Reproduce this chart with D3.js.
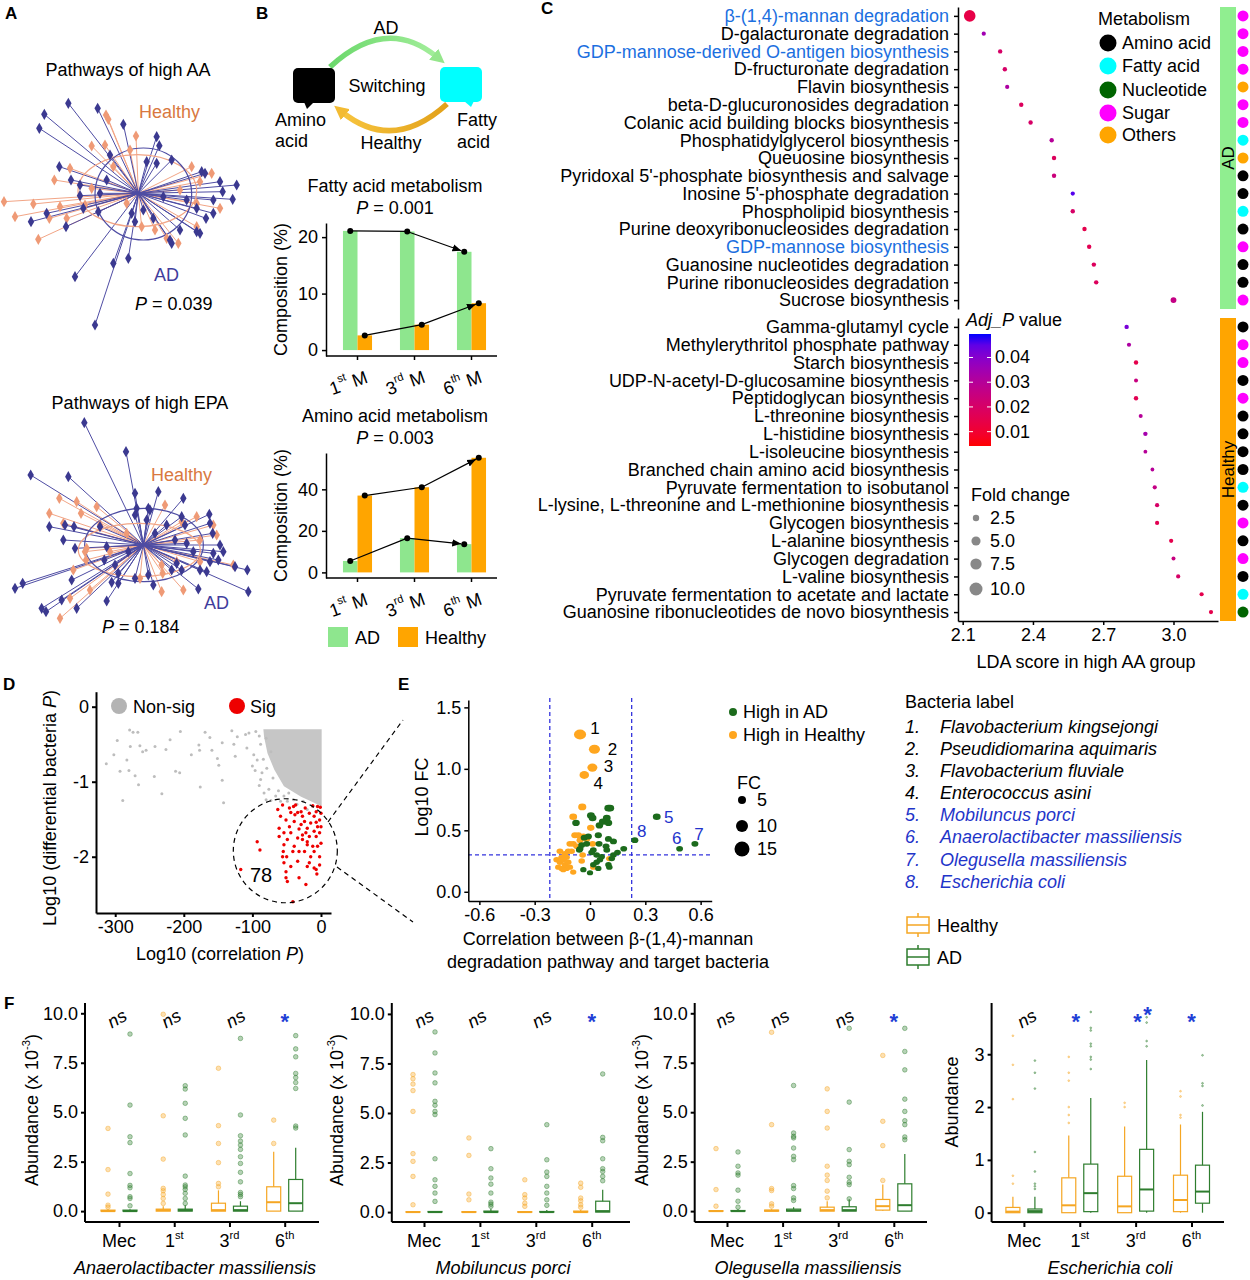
<!DOCTYPE html>
<html>
<head>
<meta charset="utf-8">
<script src="https://cdn.jsdelivr.net/npm/d3@7"></script>
<style>
  body { margin: 0; background: #fff; }
  svg { font-family: "Liberation Sans", Arial, sans-serif; }
</style>
</head>
<body>
<svg id="fig" width="1250" height="1280"></svg>
<script>
// ---------------- data: panel A (ordination coordinates, centroid at 0,0) ----------------
const aaAD = [[-0.210,0.270],[-0.122,0.255],[-0.282,0.237],[-0.297,0.195],[-0.045,0.207],[0.055,0.170],[0.063,0.143],
  [0.100,0.100],[-0.237,0.080],[-0.202,0.040],[-0.175,0.025],[0.190,0.065],[0.200,0.060],[0.245,0.035],[0.295,0.025],
  [0.253,0.005],[0.283,-0.018],[-0.322,-0.085],[-0.175,-0.007],[-0.217,-0.100],[-0.120,-0.055],[0.175,-0.045],
  [0.203,-0.075],[0.225,-0.060],[-0.075,-0.210],[-0.030,-0.195],[-0.190,-0.250],[-0.130,-0.395],[0.095,-0.140],
  [0.100,-0.150],[0.175,-0.115],[0.045,-0.075],[0.055,0.090],[0.025,0.095],[-0.085,0.115],[-0.095,0.040],
  [-0.165,-0.045],[-0.275,-0.060],[0.145,-0.020],[0.225,-0.020],[0.075,-0.010],[0.185,-0.120],[0.125,-0.110],
  [-0.020,-0.060],[0.015,-0.050],[-0.010,-0.085],[-0.115,0.000]];
const aaHealthy = [[-0.097,0.235],[-0.090,0.222],[-0.007,0.172],[-0.140,0.142],[-0.100,0.145],[-0.205,0.075],
  [-0.252,0.040],[-0.403,-0.025],[-0.315,-0.032],[-0.267,-0.075],[-0.235,-0.040],[-0.300,-0.138],[-0.140,0.015],
  [0.160,0.080],[0.220,0.060],[0.185,0.035],[0.245,-0.045],[0.125,0.010],[0.175,-0.100],[0.085,-0.135],
  [0.120,-0.150],[0.050,-0.110],[0.010,-0.100],[-0.035,-0.030],[-0.075,0.080],[-0.025,0.130],[-0.160,-0.035],
  [0.175,-0.030],[-0.370,-0.070],[-0.215,-0.075]];
const aaEllipses = [
  { group: "Healthy", cx: -0.003, cy: 0.008, rx: 0.178, ry: 0.108 },
  { group: "AD", cx: 0.015, cy: -0.002, rx: 0.145, ry: 0.138 }];

const epaAD = [[-0.177,0.367],[-0.052,0.280],[-0.338,0.210],[-0.225,0.205],[-0.025,0.155],[0.045,0.160],[0.120,0.140],
  [-0.020,0.110],[0.015,0.110],[0.010,0.075],[-0.025,0.090],[0.115,0.085],[0.198,0.092],[0.200,0.065],[-0.282,0.055],
  [-0.235,0.060],[-0.208,0.055],[-0.130,0.055],[0.035,0.035],[0.070,0.060],[0.125,0.060],[0.208,0.035],[-0.240,0.015],
  [-0.205,-0.010],[-0.110,-0.005],[-0.045,-0.020],[0.130,0.005],[0.150,-0.020],[0.230,0.000],[0.240,-0.020],
  [-0.117,-0.045],[-0.085,-0.060],[0.100,-0.055],[0.200,-0.050],[0.225,-0.045],[0.275,-0.065],[0.312,-0.075],
  [0.170,-0.075],[0.190,-0.080],[-0.075,-0.085],[-0.025,-0.100],[0.015,-0.090],[0.030,-0.120],[-0.075,-0.115],
  [-0.095,-0.112],[-0.215,-0.105],[-0.385,-0.130],[-0.362,-0.115],[-0.245,-0.165],[-0.110,-0.168],[0.165,-0.132],
  [0.315,-0.140],[-0.305,-0.190],[-0.292,-0.200],[-0.200,-0.190],[0.085,-0.075],[0.115,-0.075],[0.020,0.105],
  [0.095,0.015],[0.210,-0.025]];
const epaHealthy = [[-0.252,0.140],[-0.200,0.130],[-0.140,0.115],[-0.187,0.095],[-0.282,0.095],[-0.240,0.065],
  [-0.130,0.060],[-0.050,0.035],[-0.170,-0.010],[-0.175,-0.020],[-0.100,-0.020],[0.160,0.085],[0.210,0.060],
  [0.220,0.030],[0.170,0.015],[0.065,0.120],[0.115,0.070],[0.100,-0.050],[0.055,-0.060],[0.170,-0.050],
  [0.270,-0.060],[0.058,-0.085],[0.055,-0.140],[0.120,-0.135],[-0.010,-0.100],[-0.160,-0.135],[-0.220,-0.160],
  [-0.250,-0.220],[-0.210,-0.075],[-0.172,-0.045]];
const epaEllipses = [
  { group: "Healthy", cx: -0.012, cy: -0.015, rx: 0.183, ry: 0.080 },
  { group: "AD", cx: 0.002, cy: 0.000, rx: 0.178, ry: 0.110 }];

// ---------------- data: panel B ----------------
const months = ["1st M", "3rd M", "6th M"];
const fattyAD = [21.1, 21.0, 17.4];
const fattyHealthy = [2.6, 4.5, 8.3];
const aminoAD = [5.5, 16.5, 13.6];
const aminoHealthy = [37.0, 41.0, 55.2];

// ---------------- data: panel C ----------------
const pathwaysAD = ["β-(1,4)-mannan degradation", "D-galacturonate degradation",
  "GDP-mannose-derived O-antigen biosynthesis", "D-fructuronate degradation", "Flavin biosynthesis",
  "beta-D-glucuronosides degradation", "Colanic acid building blocks biosynthesis",
  "Phosphatidylglycerol biosynthesis", "Queuosine biosynthesis",
  "Pyridoxal 5'-phosphate biosynthesis and salvage", "Inosine 5'-phosphate degradation",
  "Phospholipid biosynthesis", "Purine deoxyribonucleosides degradation", "GDP-mannose biosynthesis",
  "Guanosine nucleotides degradation", "Purine ribonucleosides degradation", "Sucrose biosynthesis"];
const ldaAD = [2.13, 2.19, 2.26, 2.28, 2.29, 2.35, 2.39, 2.48, 2.49, 2.49, 2.57, 2.57, 2.62, 2.64, 2.66, 2.67, 3.00];
const adjpAD = [0.014, 0.035, 0.020, 0.020, 0.032, 0.018, 0.020, 0.030, 0.018, 0.024, 0.046, 0.020, 0.015, 0.016, 0.018, 0.018, 0.026];
const fcAD = [8.0, 1.1, 1.2, 1.2, 1.1, 1.2, 1.2, 1.2, 1.2, 1.2, 1.1, 1.2, 1.2, 1.2, 1.2, 1.2, 2.1];
const metabAD = ["Sugar", "Sugar", "Sugar", "Sugar", "Others", "Sugar", "Sugar", "Fatty acid", "Others",
  "Amino acid", "Amino acid", "Fatty acid", "Amino acid", "Sugar", "Amino acid", "Amino acid", "Sugar"];

const pathwaysHealthy = ["Gamma-glutamyl cycle", "Methylerythritol phosphate pathway", "Starch biosynthesis",
  "UDP-N-acetyl-D-glucosamine biosynthesis", "Peptidoglycan biosynthesis", "L-threonine biosynthesis",
  "L-histidine biosynthesis", "L-isoleucine biosynthesis", "Branched chain amino acid biosynthesis",
  "Pyruvate fermentation to isobutanol", "L-lysine, L-threonine and L-methionine biosynthesis",
  "Glycogen biosynthesis", "L-alanine biosynthesis", "Glycogen degradation", "L-valine biosynthesis",
  "Pyruvate fermentation to acetate and lactate", "Guanosine ribonucleotides de novo biosynthesis"];
const ldaHealthy = [2.80, 2.81, 2.84, 2.84, 2.84, 2.86, 2.88, 2.88, 2.91, 2.92, 2.93, 2.93, 2.99, 3.00, 3.02, 3.12, 3.16];
const adjpHealthy = [0.042, 0.032, 0.015, 0.025, 0.016, 0.030, 0.034, 0.030, 0.030, 0.026, 0.020, 0.016, 0.015, 0.025, 0.020, 0.015, 0.015];
const fcHealthy = [1.2, 1.1, 1.2, 1.0, 1.2, 1.0, 1.2, 0.9, 0.9, 1.1, 1.1, 1.1, 1.1, 1.0, 1.1, 1.1, 1.1];
const metabHealthy = ["Amino acid", "Sugar", "Sugar", "Amino acid", "Sugar", "Amino acid", "Amino acid",
  "Amino acid", "Amino acid", "Fatty acid", "Amino acid", "Sugar", "Amino acid", "Sugar", "Amino acid",
  "Fatty acid", "Nucleotide"];
const highlighted = ["β-(1,4)-mannan degradation", "GDP-mannose-derived O-antigen biosynthesis", "GDP-mannose biosynthesis"];
const metabClasses = ["Amino acid", "Fatty acid", "Nucleotide", "Sugar", "Others"];
const metabColors = ["#000000", "#00ffff", "#006400", "#ff00ff", "#ffa500"];
const adjpTicks = [0.01, 0.02, 0.03, 0.04];
const fcTicks = [2.5, 5.0, 7.5, 10.0];

// ---------------- data: panel D (log10 correlation P, log10 differential P) ----------------
const dNonSig = [[-313,-0.76],[-297,-0.45],[-302,-0.64],[-279,-0.31],[-274,-0.34],[-267,-0.34],[-278,-0.53],
  [-283,-0.71],[-280,-0.85],[-293,-0.86],[-271,-0.92],[-266,-1.04],[-289,-1.25],[-264,-0.52],[-260,-0.60],
  [-255,-0.58],[-242,-0.53],[-243,-0.93],[-232,-1.16],[-226,-0.57],[-220,-0.44],[-212,-0.86],[-206,-0.88],
  [-205,-0.33],[-189,-0.64],[-178,-0.51],[-176,-1.07],[-169,-0.34],[-177,-0.58],[-162,-0.41],[-159,-0.58],
  [-151,-0.69],[-149,-0.78],[-144,-0.48],[-144,-0.98],[-130,-0.32],[-127,-0.50],[-125,-0.66],[-122,-0.40],
  [-110,-0.37],[-108,-0.55],[-105,-0.35],[-98,-0.64],[-100,-0.79],[-96,-0.85],[-93,-0.71],[-90,-1.05],
  [-142,-1.28],[-88,-0.50],[-88,-0.97],[-83,-1.15],[-80,-1.24],[-76,-1.10],[-73,-1.25],[-79,-0.82],[-73,-0.60],
  [-66,-1.19],[-59,-1.26],[-54,-1.19],[-49,-1.26],[-47,-1.15],[-35,-1.30],[-26,-1.26],[-20,-1.37],[-80,-0.42],
  [-90,-0.39],[-95,-0.33],[-86,-0.88],[-84,-0.70],[-70,-0.95],[-62,-1.12],[-40,-1.24],[-12,-1.33]];
// outline of the saturated block of non-significant points
const dNonSigCloud = [[-84,-0.30],[1,-0.30],[1,-1.33],[-10,-1.28],[-29,-1.20],[-54,-1.06],[-68,-0.84],[-78,-0.62],[-83,-0.40]];
const dSig = [[-56,-1.31],[-40,-1.33],[-29,-1.40],[-12,-1.32],[-5,-1.33],[-1,-1.34],[-17,-1.42],[-10,-1.46],
  [-2,-1.51],[-44,-1.41],[-38,-1.44],[-34,-1.41],[-27,-1.46],[-59,-1.46],[-51,-1.51],[-39,-1.53],[-24,-1.53],
  [-15,-1.55],[-7,-1.54],[-46,-1.60],[-32,-1.63],[-20,-1.62],[-10,-1.66],[-2,-1.68],[-61,-1.62],[-54,-1.68],
  [-44,-1.68],[-27,-1.71],[-17,-1.73],[-7,-1.73],[-93,-1.80],[-89,-1.91],[-54,-1.84],[-39,-1.86],[-27,-1.77],
  [-20,-1.84],[-12,-1.86],[-5,-1.86],[-55,-1.93],[-41,-1.93],[-24,-1.93],[-15,-2.00],[-2,-2.00],[-50,-2.00],
  [-34,-2.06],[-54,-2.08],[-44,-2.13],[-20,-2.13],[-10,-2.15],[-7,-2.17],[-6,-2.23],[-51,-2.20],[-117,-2.17],
  [-49,-2.33],[-32,-2.28],[-51,-2.28],[-22,-2.37],[-41,-2.60],[-20,-1.80],[0,-1.60],[-5,-1.60],[-29,-1.57],
  [-22,-1.68],[-49,-1.77],[-10,-1.93],[-34,-1.75],[-46,-1.35],[-63,-1.37],[0,-1.42],[-7,-1.40],[-23,-1.35],
  [-37,-1.31],[-17,-2.08],[0,-1.82],[-32,-1.93],[-61,-1.73],[-56,-2.00],[-2,-2.11]];
const dSigCount = 78;
const dSigCircle = { x: -52, y: -1.92, rPx: 52 };

// ---------------- data: panel E (correlation, log10 FC) ----------------
const eHealthy = [[-0.054,1.28],[0.024,1.16],[0.013,1.01],[-0.031,0.95],[-0.042,0.69],[-0.091,0.61],[0.004,0.52],
  [-0.082,0.46],[-0.063,0.46],[-0.036,0.45],[-0.018,0.43],[-0.054,0.42],[-0.109,0.39],[-0.091,0.39],[-0.072,0.37],
  [0.014,0.39],[-0.118,0.33],[-0.100,0.33],[-0.136,0.31],[-0.154,0.28],[-0.127,0.28],[-0.181,0.26],[-0.163,0.24],
  [-0.145,0.26],[-0.136,0.22],[-0.118,0.24],[-0.109,0.20],[-0.172,0.20],[-0.154,0.19],[-0.127,0.19],[-0.145,0.18],
  [-0.091,0.16],[-0.045,0.25],[-0.040,0.30],[0.018,0.20],[0.105,0.27],[-0.163,0.33]];
const eAD = [[0.362,0.61],[0.486,0.35],[0.569,0.39],[0.243,0.42],[0.100,0.68],[0.109,0.68],[0.005,0.62],[0.014,0.60],
  [0.051,0.54],[0.091,0.60],[0.069,0.57],[0.100,0.56],[-0.076,0.56],[0.045,0.46],[0.100,0.43],[0.127,0.41],
  [-0.031,0.44],[-0.009,0.45],[-0.045,0.38],[-0.018,0.39],[-0.054,0.35],[0.018,0.34],[0.009,0.32],[0.049,0.39],
  [0.087,0.37],[0.091,0.34],[0.127,0.30],[0.149,0.32],[0.183,0.35],[0.118,0.27],[0.036,0.30],[0.036,0.24],
  [0.054,0.26],[0.045,0.19],[0.018,0.22],[0.100,0.22],[0.105,0.20],[-0.036,0.18],[0.000,0.155],[-0.058,0.34],
  [0.063,0.285]];
// numbered bacteria: [group, index in its array, label dx, label dy]
const eNumbered = [["Healthy",0,15,-6],["Healthy",1,18,0],["Healthy",2,16,-2],["Healthy",3,14,8],
  ["AD",0,12,0],["AD",1,-3,-11],["AD",2,4,-10],["AD",3,7,-9]];
const eCorrCut = [-0.218, 0.226];
const eFcCut = 0.30;
const eFcTicks = [5, 10, 15];
const bacteriaNames = ["Flavobacterium kingsejongi", "Pseudidiomarina aquimaris", "Flavobacterium fluviale",
  "Enterococcus asini", "Mobiluncus porci", "Anaerolactibacter massiliensis", "Olegusella massiliensis",
  "Escherichia coli"];

// ---------------- data: panel F (box stats: [low whisker, q1, median, q3, high whisker]) ----------------
const fTimes = ["Mec", "1st", "3rd", "6th"];
const fTimeSup = ["", "st", "rd", "th"];
const anaeroHealthyBox = [[0,0,0,0.05,0.1],[0,0,0.05,0.1,0.25],[0,0,0.05,0.4,1.05],[0,0,0.45,1.23,3.0]];
const anaeroADBox = [[0,0,0,0.05,0.1],[0,0,0.05,0.1,0.3],[0,0,0.05,0.25,0.5],[0,0,0.4,1.6,3.2]];
const anaeroHealthyOut = [[4.18,2.1,0.86,0.3,0.2],[9.95,4.82,2.63,1.15,1.03,0.84,0.64,0.39],[7.22,4.32,3.42,2.45,1.4,1.23],[4.6,3.42]];
const anaeroADOut = [[8.95,5.36,3.76,3.46,1.9,1.3,1.18,0.73,0.64,0.27],[6.34,6.17,5.45,4.69,3.85,1.77,1.32,1.23,1.1,0.9,0.64,0.39],
  [8.73,4.86,3.81,3.54,3.34,3.12,2.75,2.41,1.96,1.48,0.94,0.84,0.73],[8.87,8.2,7.8,6.96,6.75,6.5,6.2,4.3,4.2]];
const mobiHealthyBox = [[0,0,0,0.02,0.05],[0,0,0,0.02,0.05],[0,0,0,0.02,0.05],[0,0,0,0.05,0.1]];
const mobiADBox = [[0,0,0,0.03,0.05],[0,0,0,0.05,0.15],[0,0,0,0.03,0.1],[0,0,0.05,0.55,1.13]];
const mobiHealthyOut = [[6.94,6.73,6.46,6.13,5.08,2.95,2.56,1.8,0.37],[3.74,2.86,0.91,0.62],[1.63,0.88,0.71,0.45,0.29],[1.46,1.25,0.71,0.57,0.37,0.24]];
const mobiADOut = [[9.09,8.03,7.02,6.52,5.59,5.39,5.08,4.92,2.69,1.63,1.3,0.96,0.54],[3.2,2.19,1.72,1.41,0.96,0.5,0.4,0.29],
  [4.41,2.64,2.02,1.8,1.3,0.96,0.62,0.34],[6.97,3.77,3.6,2.69,2.19,2.05,1.8,1.58]];
const olegHealthyBox = [[0,0,0,0.02,0.05],[0,0,0.02,0.05,0.1],[0,0,0.05,0.2,0.5],[0,0.05,0.25,0.59,1.34]];
const olegADBox = [[0,0,0,0.03,0.1],[0,0,0.03,0.1,0.2],[0,0,0.05,0.22,0.6],[0,0,0.3,1.38,2.89]];
const olegHealthyOut = [[3.16,1.09,0.25],[9.04,4.37,1.14,1.04,0.37,0.25],[6.18,5.04,4.2,2.27,1.82,1.55,1.01,0.67],[7.87,4.54,3.31,1.55]];
const olegADOut = [[2.99,2.27,1.93,1.82,1.06,0.5,0.2],[6.35,3.95,3.78,3.7,3.19,2.77,2.6,1.29,1.14,0.67,0.54],
  [9.24,5.51,3.11,2.52,2.35,1.71,1.46,1.34,0.62],[9.24,8.07,7.14,5.66,5.04,4.57,4.37,3.75,3.61]];
const ecoliHealthyBox = [[0,0,0.02,0.1,0.3],[0,0,0.14,0.66,1.46],[0,0,0.12,0.69,1.63],[0,0.02,0.24,0.71,1.67]];
const ecoliADBox = [[0,0,0.03,0.07,0.3],[0,0.02,0.37,0.92,2.17],[0,0.03,0.44,1.2,2.89],[0,0.18,0.4,0.9,1.91]];
const ecoliHealthyOut = [[3.35,2.8,2.15,0.7,0.55],[2.95,2.65,2.5,2.0,1.85,1.7],[2.08,2.0],[2.3,2.2,1.85,1.8]];
const ecoliADOut = [[2.88,2.65,2.35,1.15,0.78,0.55,0.5,0.45],[3.8,3.5,3.45,3.2,3.15,2.95,2.9,2.72],[3.7,3.6,3.25,3.15],[2.98,2.45,2.4,2.03]];
const anaeroSig = ["ns", "ns", "ns", "*"];
const mobiSig = ["ns", "ns", "ns", "*"];
const olegSig = ["ns", "ns", "ns", "*"];
const ecoliSig = ["ns", "*", "**", "*"];

// ---------------- helpers ----------------
const svg = d3.select("#fig");
svg.append("rect").attr("width", 1250).attr("height", 1280).attr("fill", "#fff");
const defs = svg.append("defs");

function txt(g, x, y, parts, o = {}) {
  const size = o.size || 18;
  const t = g.append("text").attr("x", x).attr("y", y)
    .attr("font-size", size)
    .attr("text-anchor", o.anchor || "start")
    .attr("fill", o.fill || "#000");
  if (o.italic) t.attr("font-style", "italic");
  if (o.bold) t.attr("font-weight", "bold");
  if (o.baseline) t.attr("dominant-baseline", o.baseline);
  if (o.rotate) t.attr("transform", `rotate(${o.rotate},${x},${y})`);
  const list = typeof parts === "string" ? [[parts]] : parts;
  let raised = false;
  list.forEach(([s, style]) => {
    const sp = t.append("tspan").text(s);
    if (style === "i") sp.attr("font-style", "italic");
    if (style === "sup") {
      sp.attr("font-size", size * 0.62).attr("dy", -size * 0.42);
      raised = true;
    } else if (raised) {
      sp.attr("dy", size * 0.42);
      raised = false;
    }
  });
  return t;
}

function styleAxis(a, width) {
  a.attr("font-family", null).attr("font-size", 18);
  a.selectAll("path,line").attr("stroke", "#000").attr("stroke-width", width || 1.5);
  a.selectAll("text").attr("fill", "#000");
  return a;
}

const layer = svg.append("g");

// panel letters
[["A", 5, 19], ["B", 256, 19], ["C", 541, 14], ["D", 3, 690], ["E", 398, 690], ["F", 4, 1009]]
  .forEach(([l, x, y]) => txt(layer, x, y, l, { bold: true, size: 17 }));

// ---------------- panel A ----------------
function drawSpider(cfg) {
  const g = svg.append("g");
  const x = d3.scaleLinear().domain(cfg.xDomain).range(cfg.xRange);
  const y = d3.scaleLinear().domain(cfg.yDomain).range(cfg.yRange);
  const groups = [
    { name: "Healthy", pts: cfg.healthy, line: "#f2a586", fill: "#ef9a76" },
    { name: "AD", pts: cfg.ad, line: "#4e4ca3", fill: "#3b3990" }];
  groups.forEach(gr => {
    g.append("g").selectAll("line").data(gr.pts).join("line")
      .attr("x1", x(0)).attr("y1", y(0))
      .attr("x2", d => x(d[0])).attr("y2", d => y(d[1]))
      .attr("stroke", gr.line).attr("stroke-width", 1);
  });
  g.append("g").selectAll("ellipse").data(cfg.ellipses).join("ellipse")
    .attr("cx", d => x(d.cx)).attr("cy", d => y(d.cy))
    .attr("rx", d => x(d.rx) - x(0)).attr("ry", d => y(0) - y(d.ry))
    .attr("fill", "none")
    .attr("stroke", d => d.group === "AD" ? "#4e4ca3" : "#f2a586")
    .attr("stroke-width", 1.2);
  const diamond = d3.symbol(d3.symbolDiamond, 36);
  groups.forEach(gr => {
    g.append("g").selectAll("path").data(gr.pts).join("path")
      .attr("d", diamond)
      .attr("transform", d => `translate(${x(d[0])},${y(d[1])})`)
      .attr("fill", gr.fill);
  });
  txt(g, cfg.title[0], cfg.title[1], cfg.title[2], { anchor: "middle" });
  txt(g, cfg.healthyLab[0], cfg.healthyLab[1], "Healthy", { fill: "#d9783f" });
  txt(g, cfg.adLab[0], cfg.adLab[1], "AD", { fill: "#3f3d9c" });
  txt(g, cfg.pLab[0], cfg.pLab[1], [["P", "i"], [" = " + cfg.p]]);
}

drawSpider({
  healthy: aaHealthy, ad: aaAD, ellipses: aaEllipses,
  xDomain: [-0.415, 0.395], xRange: [0, 270], yDomain: [0.58, -0.41], yRange: [0, 330],
  title: [128, 76, "Pathways of high AA"], healthyLab: [139, 118], adLab: [154, 281], pLab: [135, 310], p: "0.039"
});
drawSpider({
  healthy: epaHealthy, ad: epaAD, ellipses: epaEllipses,
  xDomain: [-0.43, 0.38], xRange: [0, 270], yDomain: [0.495, -0.315], yRange: [380, 650],
  title: [140, 409, "Pathways of high EPA"], healthyLab: [151, 481], adLab: [204, 609], pLab: [102, 633], p: "0.184"
});

// ---------------- panel B ----------------
const gB = svg.append("g");
// switching diagram
const gradG = defs.append("linearGradient").attr("id", "gradGreen");
gradG.append("stop").attr("offset", "0%").attr("stop-color", "#6bd86b");
gradG.append("stop").attr("offset", "100%").attr("stop-color", "#a3ee9b");
const gradO = defs.append("linearGradient").attr("id", "gradOrange");
gradO.append("stop").attr("offset", "0%").attr("stop-color", "#f7c43e");
gradO.append("stop").attr("offset", "100%").attr("stop-color", "#e2a11a");
[["arrGreen", "#95e68c"], ["arrOrange", "#f3bb33"]].forEach(([id, c]) => {
  defs.append("marker").attr("id", id).attr("viewBox", "0 0 10 10").attr("refX", 3).attr("refY", 5)
    .attr("markerWidth", 2.6).attr("markerHeight", 2.6).attr("orient", "auto")
    .append("path").attr("d", "M0,0 L10,5 L0,10 z").attr("fill", c);
});
defs.append("marker").attr("id", "arrBlack").attr("viewBox", "0 0 10 10").attr("refX", 10).attr("refY", 5)
  .attr("markerWidth", 9).attr("markerHeight", 9).attr("markerUnits", "userSpaceOnUse").attr("orient", "auto")
  .append("path").attr("d", "M0,1 L10,5 L0,9 z").attr("fill", "#000");

gB.append("path").attr("d", "M330,67 Q386,15 437,57").attr("fill", "none")
  .attr("stroke", "url(#gradGreen)").attr("stroke-width", 5.5).attr("marker-end", "url(#arrGreen)");
gB.append("path").attr("d", "M447,104 Q393,153 342,112").attr("fill", "none")
  .attr("stroke", "url(#gradOrange)").attr("stroke-width", 5.5).attr("marker-end", "url(#arrOrange)");
gB.append("rect").attr("x", 293).attr("y", 68).attr("width", 42).attr("height", 35).attr("rx", 5).attr("fill", "#000");
gB.append("path").attr("d", "M304,102 L314,102 L307,109 z").attr("fill", "#000");
gB.append("rect").attr("x", 440).attr("y", 67).attr("width", 42).attr("height", 35).attr("rx", 5).attr("fill", "#00ffff");
gB.append("path").attr("d", "M464,101 L474,101 L471,107 z").attr("fill", "#00ffff");
txt(gB, 386, 34, "AD", { anchor: "middle" });
txt(gB, 387, 92, "Switching", { anchor: "middle" });
txt(gB, 391, 149, "Healthy", { anchor: "middle" });
txt(gB, 275, 126, "Amino");
txt(gB, 275, 147, "acid");
txt(gB, 457, 126, "Fatty");
txt(gB, 457, 148, "acid");

function drawComposition(cfg) {
  const g = svg.append("g");
  const x = d3.scaleBand().domain(months).range([329, 500]).paddingInner(0.49).paddingOuter(0.245);
  const y = d3.scaleLinear().domain(cfg.yDomain).range([cfg.bottom, cfg.top]);
  const half = x.bandwidth() / 2;
  const series = [
    { vals: cfg.ad, color: "#8ee68e", off: 0 },
    { vals: cfg.healthy, color: "#ffa500", off: half }];
  series.forEach(s => {
    g.append("g").selectAll("rect").data(s.vals).join("rect")
      .attr("x", (d, i) => x(months[i]) + s.off).attr("width", half)
      .attr("y", d => y(d)).attr("height", d => y(0) - y(d))
      .attr("fill", s.color);
  });
  series.forEach(s => {
    const pts = s.vals.map((v, i) => [x(months[i]) + s.off + half / 2, y(v)]);
    g.append("line").attr("x1", pts[0][0]).attr("y1", pts[0][1]).attr("x2", pts[1][0]).attr("y2", pts[1][1])
      .attr("stroke", "#000").attr("stroke-width", 1.2);
    const dx = pts[2][0] - pts[1][0], dy = pts[2][1] - pts[1][1], len = Math.hypot(dx, dy);
    g.append("line").attr("x1", pts[1][0]).attr("y1", pts[1][1])
      .attr("x2", pts[2][0] - dx / len * 3).attr("y2", pts[2][1] - dy / len * 3)
      .attr("stroke", "#000").attr("stroke-width", 1.2).attr("marker-end", "url(#arrBlack)");
    g.append("g").selectAll("circle").data(pts).join("circle")
      .attr("cx", d => d[0]).attr("cy", d => d[1]).attr("r", 3).attr("fill", "#000");
  });
  styleAxis(g.append("g").attr("transform", "translate(326,0)")
    .call(d3.axisLeft(y).tickValues(cfg.ticks).tickSize(4).tickSizeOuter(0).tickPadding(4)));
  const ax = styleAxis(g.append("g").attr("transform", `translate(0,${cfg.bottom})`)
    .call(d3.axisBottom(x).tickSize(4).tickSizeOuter(0)));
  ax.select(".domain").attr("d", `M326,0H497`);
  ax.selectAll("text").remove();
  months.forEach((m, i) => {
    const cx = x(m) + half - 9, cy = cfg.bottom + 27;
    txt(g, cx, cy, [[m.slice(0, 1)], [m.slice(1, 3), "sup"], [" M"]],
      { anchor: "middle", rotate: -20, baseline: "central" });
  });
  txt(g, 395, cfg.top - 31, cfg.title, { anchor: "middle" });
  txt(g, 395, cfg.top - 9, [["P", "i"], [" = " + cfg.p]], { anchor: "middle" });
  txt(g, 287, (cfg.bottom + cfg.top) / 2, "Composition (%)", { anchor: "middle", rotate: -90 });
}

drawComposition({ ad: fattyAD, healthy: fattyHealthy, yDomain: [-1.05, 22.5], bottom: 356, top: 223,
  ticks: [0, 10, 20], title: "Fatty acid metabolism", p: "0.001" });
drawComposition({ ad: aminoAD, healthy: aminoHealthy, yDomain: [-2.7, 57.5], bottom: 578, top: 453,
  ticks: [0, 20, 40], title: "Amino acid metabolism", p: "0.003" });
// legend B
[["AD", "#8ee68e", 328], ["Healthy", "#ffa500", 398]].forEach(([l, c, x0]) => {
  gB.append("rect").attr("x", x0).attr("y", 627).attr("width", 20).attr("height", 20).attr("fill", c);
  txt(gB, x0 + 27, 644, l);
});

// ---------------- panel C ----------------
const gC = svg.append("g");
const cX = d3.scaleLinear().domain([2.08, 3.19]).range([958, 1218]);
const cYAD = d3.scalePoint().domain(pathwaysAD).range([7, 309]).padding(0.5);
const cYH = d3.scalePoint().domain(pathwaysHealthy).range([318, 621]).padding(0.5);
const cColor = d3.scaleLinear().domain([0.0042, 0.0495]).range(["#ff0000", "#0000ff"]).interpolate(d3.interpolateLab);
const cSize = d3.scaleSqrt().domain([1, 10]).range([2, 6.5]);
const metabColor = d3.scaleOrdinal().domain(metabClasses).range(metabColors);

[[pathwaysAD, cYAD, ldaAD, adjpAD, fcAD, metabAD], [pathwaysHealthy, cYH, ldaHealthy, adjpHealthy, fcHealthy, metabHealthy]]
  .forEach(([names, yS, lda, adjp, fc, metab]) => {
    const rows = names.map((n, i) => ({ n, lda: lda[i], p: adjp[i], fc: fc[i], m: metab[i] }));
    const ay = styleAxis(gC.append("g").attr("transform", "translate(958,0)")
      .call(d3.axisLeft(yS).tickSize(4).tickSizeOuter(0).tickPadding(5)));
    ay.selectAll("text").attr("fill", d => highlighted.includes(d) ? "#1b6fe0" : "#000");
    gC.append("g").selectAll("circle").data(rows).join("circle")
      .attr("cx", d => cX(d.lda)).attr("cy", d => yS(d.n)).attr("r", d => cSize(d.fc))
      .attr("fill", d => cColor(d.p));
    gC.append("g").selectAll("circle").data(rows).join("circle")
      .attr("cx", 1243).attr("cy", d => yS(d.n)).attr("r", 5.5).attr("fill", d => metabColor(d.m));
  });
styleAxis(gC.append("g").attr("transform", "translate(0,621)")
  .call(d3.axisBottom(cX).tickValues([2.1, 2.4, 2.7, 3.0]).tickFormat(d3.format(".1f")).tickSize(4).tickSizeOuter(0)));
txt(gC, 1086, 668, "LDA score in high AA group", { anchor: "middle" });
// facet strips
[["AD", "#90ee90", 7, 309], ["Healthy", "#ffa500", 318, 621]].forEach(([l, c, y0, y1]) => {
  gC.append("rect").attr("x", 1220).attr("y", y0).attr("width", 16).attr("height", y1 - y0).attr("fill", c);
  txt(gC, 1234, (y0 + y1) / 2, l, { anchor: "middle", rotate: -90, size: 17 });
});
// metabolism legend
txt(gC, 1098, 25, "Metabolism");
metabClasses.forEach((m, i) => {
  const yy = [43, 66, 90, 113, 135][i];
  gC.append("circle").attr("cx", 1108).attr("cy", yy).attr("r", 8.5).attr("fill", metabColor(m));
  txt(gC, 1122, yy + 6, m);
});
// Adj_P colour bar
txt(gC, 966, 326, [["Adj_P", "i"], [" value"]]);
const cbY = d3.scaleLinear().domain([0.0042, 0.0495]).range([446, 334]);
const grad = defs.append("linearGradient").attr("id", "adjpGrad").attr("x1", 0).attr("y1", 1).attr("x2", 0).attr("y2", 0);
d3.range(0, 1.0001, 0.1).forEach(t => {
  grad.append("stop").attr("offset", t).attr("stop-color", cColor(0.0042 + t * (0.0495 - 0.0042)));
});
gC.append("rect").attr("x", 969).attr("y", 334).attr("width", 22).attr("height", 112).attr("fill", "url(#adjpGrad)");
adjpTicks.forEach(v => {
  gC.append("line").attr("x1", 969).attr("x2", 973).attr("y1", cbY(v)).attr("y2", cbY(v)).attr("stroke", "#fff");
  gC.append("line").attr("x1", 987).attr("x2", 991).attr("y1", cbY(v)).attr("y2", cbY(v)).attr("stroke", "#fff");
  txt(gC, 995, cbY(v) + 6, d3.format(".2f")(v));
});
// fold change legend
txt(gC, 971, 501, "Fold change");
fcTicks.forEach((v, i) => {
  const yy = [518, 541, 564, 589][i];
  gC.append("circle").attr("cx", 976).attr("cy", yy).attr("r", cSize(v)).attr("fill", "#888");
  txt(gC, 990, yy + 6, d3.format(".1f")(v));
});

// ---------------- panel D ----------------
const gD = svg.append("g");
const dX = d3.scaleLinear().domain([-328, 14.6]).range([96, 331]);
const dY = d3.scaleLinear().domain([-2.75, 0.2]).range([913, 691.7]);
gD.append("path")
  .attr("d", d3.line().x(d => dX(d[0])).y(d => dY(d[1]))(dNonSigCloud) + "Z")
  .attr("fill", "#c6c6c6");
gD.append("g").selectAll("circle").data(dNonSig).join("circle")
  .attr("cx", d => dX(d[0])).attr("cy", d => dY(d[1])).attr("r", 1.5).attr("fill", "#bdbdbd");
gD.append("g").selectAll("circle").data(dSig).join("circle")
  .attr("cx", d => dX(d[0])).attr("cy", d => dY(d[1])).attr("r", 1.7).attr("fill", "#ee0000");
gD.append("circle").attr("cx", dX(dSigCircle.x)).attr("cy", dY(dSigCircle.y)).attr("r", dSigCircle.rPx)
  .attr("fill", "none").attr("stroke", "#000").attr("stroke-width", 1.2).attr("stroke-dasharray", "5,4");
txt(gD, 261, 882, String(dSigCount), { anchor: "middle", size: 20 });
styleAxis(gD.append("g").attr("transform", "translate(96,0)")
  .call(d3.axisLeft(dY).tickValues([0, -1, -2]).tickFormat(d => String(d)).tickSize(4).tickSizeOuter(0)), 2);
styleAxis(gD.append("g").attr("transform", "translate(0,913)")
  .call(d3.axisBottom(dX).tickValues([-300, -200, -100, 0]).tickFormat(d => String(d)).tickSize(4).tickSizeOuter(0)), 2);
txt(gD, 220, 960, [["Log10 (correlation "], ["P", "i"], [")"]], { anchor: "middle" });
txt(gD, 56, 808, [["Log10 (differential bacteria "], ["P", "i"], [")"]], { anchor: "middle", rotate: -90 });
gD.append("circle").attr("cx", 119).attr("cy", 706).attr("r", 8).attr("fill", "#b3b3b3");
txt(gD, 133, 713, "Non-sig");
gD.append("circle").attr("cx", 237).attr("cy", 706).attr("r", 8).attr("fill", "#ee0000");
txt(gD, 250, 713, "Sig");
// zoom lines towards panel E
[[328, 822, 403, 720], [337, 867, 413, 922]].forEach(([x1, y1, x2, y2]) => {
  gD.append("line").attr("x1", x1).attr("y1", y1).attr("x2", x2).attr("y2", y2)
    .attr("stroke", "#000").attr("stroke-width", 1.2).attr("stroke-dasharray", "5,4");
});

// ---------------- panel E ----------------
const gE = svg.append("g");
const eX = d3.scaleLinear().domain([-0.66, 0.66]).range([468.3, 711.7]);
const eY = d3.scaleLinear().domain([-0.075, 1.56]).range([901, 700]);
const eSize = d3.scaleSqrt().domain([1, 20]).range([2.7, 5.6]);
const eColor = { Healthy: "#ffa61f", AD: "#1c6b1c" };
eCorrCut.forEach(v => {
  gE.append("line").attr("x1", eX(v)).attr("x2", eX(v)).attr("y1", 698).attr("y2", 901)
    .attr("stroke", "#3333dd").attr("stroke-width", 1.3).attr("stroke-dasharray", "4,3");
});
gE.append("line").attr("x1", 468).attr("x2", 712).attr("y1", eY(eFcCut)).attr("y2", eY(eFcCut))
  .attr("stroke", "#3333dd").attr("stroke-width", 1.3).attr("stroke-dasharray", "4,3");
[["Healthy", eHealthy], ["AD", eAD]].forEach(([grp, pts]) => {
  gE.append("g").selectAll("ellipse").data(pts).join("ellipse")
    .attr("cx", d => eX(d[0])).attr("cy", d => eY(d[1]))
    .attr("rx", d => eSize(Math.pow(10, d[1])) * 1.1).attr("ry", d => eSize(Math.pow(10, d[1])) * 0.9)
    .attr("fill", eColor[grp]);
});
eNumbered.forEach(([grp, idx, dx, dy], i) => {
  const p = (grp === "Healthy" ? eHealthy : eAD)[idx];
  txt(gE, eX(p[0]) + dx, eY(p[1]) + dy, String(i + 1),
    { anchor: "middle", baseline: "central", size: 17, fill: grp === "Healthy" ? "#000" : "#2233cc" });
});
styleAxis(gE.append("g").attr("transform", "translate(468.3,0)")
  .call(d3.axisLeft(eY).tickValues([0, 0.5, 1.0, 1.5]).tickFormat(d3.format(".1f")).tickSize(4).tickSizeOuter(0)));
styleAxis(gE.append("g").attr("transform", "translate(0,901)")
  .call(d3.axisBottom(eX).tickValues([-0.6, -0.3, 0, 0.3, 0.6]).tickFormat(d => d === 0 ? "0" : String(d))
    .tickSize(4).tickSizeOuter(0)));
txt(gE, 608, 945, "Correlation between β-(1,4)-mannan", { anchor: "middle" });
txt(gE, 608, 968, "degradation pathway and target bacteria", { anchor: "middle" });
txt(gE, 428, 797, "Log10 FC", { anchor: "middle", rotate: -90 });
gE.append("circle").attr("cx", 733).attr("cy", 712).attr("r", 4).attr("fill", eColor.AD);
txt(gE, 743, 718, "High in AD");
gE.append("circle").attr("cx", 733).attr("cy", 735).attr("r", 4).attr("fill", eColor.Healthy);
txt(gE, 743, 741, "High in Healthy");
txt(gE, 737, 789, "FC");
eFcTicks.forEach((v, i) => {
  const yy = [800, 826, 849][i];
  gE.append("circle").attr("cx", 742).attr("cy", yy).attr("r", [4, 6, 7.5][i]).attr("fill", "#000");
  txt(gE, 757, yy + 6, String(v));
});
// bacteria label list
txt(gE, 905, 708, "Bacteria label");
bacteriaNames.forEach((n, i) => {
  const yy = [727, 749, 771, 793, 815, 837, 860, 882][i] + 6;
  const c = i < 4 ? "#000" : "#1f35c9";
  txt(gE, 905, yy, (i + 1) + ".", { italic: true, fill: c });
  txt(gE, 940, yy, n, { italic: true, fill: c });
});
// box legend
[["Healthy", "#f5a623", 917, 932], ["AD", "#2e7d2e", 949, 964]].forEach(([l, c, y0, ty]) => {
  gE.append("line").attr("x1", 918).attr("x2", 918).attr("y1", y0 - 4).attr("y2", y0 + 20).attr("stroke", c).attr("stroke-width", 1.5);
  gE.append("rect").attr("x", 907).attr("y", y0).attr("width", 22).attr("height", 16).attr("fill", "#fff")
    .attr("stroke", c).attr("stroke-width", 1.5);
  gE.append("line").attr("x1", 907).attr("x2", 929).attr("y1", y0 + 8).attr("y2", y0 + 8).attr("stroke", c).attr("stroke-width", 1.5);
  txt(gE, 937, ty, l);
});

// ---------------- panel F ----------------
const fOrange = "#f5a623", fGreen = "#2e7d2e";
function drawBoxPanel(cfg) {
  const g = svg.append("g");
  const x = d3.scalePoint().domain(fTimes).range(cfg.cats);
  const y = d3.scaleLinear().domain(cfg.yDomain).range([1222, 1003]);
  const groups = [
    { box: cfg.hBox, out: cfg.hOut, color: fOrange, off: -11 },
    { box: cfg.aBox, out: cfg.aOut, color: fGreen, off: 11 }];
  groups.forEach(gr => {
    fTimes.forEach((t, i) => {
      const cx = x(t) + gr.off, [lo, q1, med, q3, hi] = gr.box[i];
      g.append("g").selectAll("circle").data(gr.out[i]).join("circle")
        .attr("cx", cx).attr("cy", d => y(d)).attr("r", cfg.outR)
        .attr("fill", gr.color).attr("fill-opacity", 0.35)
        .attr("stroke", gr.color).attr("stroke-opacity", 0.55).attr("stroke-width", 0.8);
      g.append("line").attr("x1", cx).attr("x2", cx).attr("y1", y(q3)).attr("y2", y(hi))
        .attr("stroke", gr.color).attr("stroke-width", 1.2);
      g.append("line").attr("x1", cx).attr("x2", cx).attr("y1", y(q1)).attr("y2", y(lo))
        .attr("stroke", gr.color).attr("stroke-width", 1.2);
      g.append("rect").attr("x", cx - 7).attr("width", 14).attr("y", y(q3)).attr("height", Math.max(0.5, y(q1) - y(q3)))
        .attr("fill", "none").attr("stroke", gr.color).attr("stroke-width", 1.2);
      g.append("line").attr("x1", cx - 7).attr("x2", cx + 7).attr("y1", y(med)).attr("y2", y(med))
        .attr("stroke", gr.color).attr("stroke-width", 2);
    });
  });
  const ay = styleAxis(g.append("g").attr("transform", `translate(${cfg.axisX},0)`)
    .call(d3.axisLeft(y).tickValues(cfg.ticks).tickFormat(cfg.fmt).tickSize(4).tickSizeOuter(0)), 2);
  ay.select(".domain").attr("d", `M0,1003V1222`);
  const ax = styleAxis(g.append("g").attr("transform", "translate(0,1222)")
    .call(d3.axisBottom(x).tickSize(5).tickSizeOuter(0)), 2);
  ax.select(".domain").attr("d", `M${cfg.axisX},0H${cfg.xEnd}`);
  ax.selectAll("text").remove();
  fTimes.forEach((t, i) => {
    txt(g, x(t), 1247, fTimeSup[i] ? [[t.slice(0, 1)], [fTimeSup[i], "sup"]] : t, { anchor: "middle" });
    const s = cfg.sig[i], sx = x(t) + cfg.sigDx[i];
    if (s === "ns") txt(g, sx, 1024, "ns", { anchor: "middle", italic: true, rotate: -30 });
    else if (s === "**") {
      txt(g, sx - 5, 1029, "*", { anchor: "middle", fill: "#1f3fd6", size: 22, bold: true });
      txt(g, sx + 5, 1022, "*", { anchor: "middle", fill: "#1f3fd6", size: 22, bold: true });
    } else txt(g, sx, 1029, "*", { anchor: "middle", fill: "#1f3fd6", size: 22, bold: true });
  });
  txt(g, cfg.titleX, 1274, cfg.title, { anchor: "middle", italic: true });
  const labParts = cfg.scaled ? [["Abundance (x 10"], ["-3", "sup"], [")"]] : "Abundance";
  txt(g, cfg.labX, cfg.labY, labParts, { anchor: "middle", rotate: -90 });
}
const fScaledTicks = [0, 2.5, 5.0, 7.5, 10.0];
drawBoxPanel({ hBox: anaeroHealthyBox, aBox: anaeroADBox, hOut: anaeroHealthyOut, aOut: anaeroADOut,
  sig: anaeroSig, sigDx: [1, 0, 9, 0], cats: [119, 284.7], axisX: 85, xEnd: 319, yDomain: [-0.55, 10.52],
  ticks: fScaledTicks, fmt: d3.format(".1f"), outR: 2.3, title: "Anaerolactibacter massiliensis", titleX: 195,
  scaled: true, labX: 38, labY: 1110 });
drawBoxPanel({ hBox: mobiHealthyBox, aBox: mobiADBox, hOut: mobiHealthyOut, aOut: mobiADOut,
  sig: mobiSig, sigDx: [3, 0, 9, 0], cats: [424, 591.7], axisX: 391.8, xEnd: 630, yDomain: [-0.5, 10.55],
  ticks: fScaledTicks, fmt: d3.format(".1f"), outR: 2.3, title: "Mobiluncus porci", titleX: 503,
  scaled: true, labX: 343, labY: 1110 });
drawBoxPanel({ hBox: olegHealthyBox, aBox: olegADBox, hOut: olegHealthyOut, aOut: olegADOut,
  sig: olegSig, sigDx: [1, 0, 9, 0], cats: [727, 893.8], axisX: 694.7, xEnd: 927, yDomain: [-0.55, 10.52],
  ticks: fScaledTicks, fmt: d3.format(".1f"), outR: 2.3, title: "Olegusella massiliensis", titleX: 808,
  scaled: true, labX: 648, labY: 1110 });
drawBoxPanel({ hBox: ecoliHealthyBox, aBox: ecoliADBox, hOut: ecoliHealthyOut, aOut: ecoliADOut,
  sig: ecoliSig, sigDx: [6, -4, 7, 0], cats: [1023.9, 1191.5], axisX: 991.6, xEnd: 1224, yDomain: [-0.176, 3.97],
  ticks: [0, 1, 2, 3], fmt: d3.format("d"), outR: 0.9, title: "Escherichia coli", titleX: 1110,
  scaled: false, labX: 958, labY: 1102 });
</script>
</body>
</html>
